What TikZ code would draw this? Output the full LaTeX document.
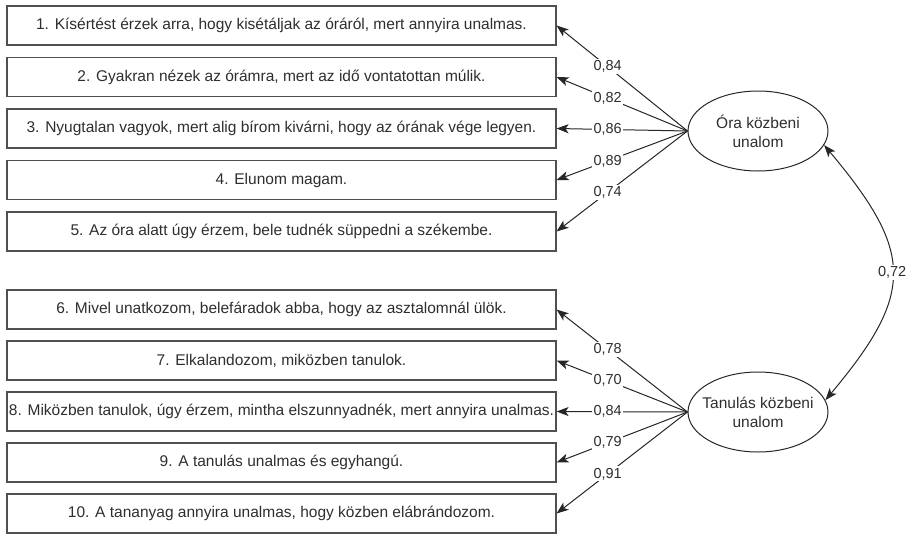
\documentclass[tikz,border=0pt]{standalone}
\usepackage{fontspec}
\setmainfont{Liberation Sans}
\usetikzlibrary{arrows.meta,shapes.geometric}
\definecolor{boxgray}{HTML}{505050}
\definecolor{textgray}{HTML}{2E2E2E}
\definecolor{linegray}{HTML}{262626}
\begin{document}
\begin{tikzpicture}[x=1pt,y=-1pt,
 item/.style={draw=boxgray, line width=1.1pt, minimum width=549pt, minimum height=39pt, inner sep=0pt, text=textgray, font=\fontsize{15.5}{18}\selectfont},
 latent/.style={draw=linegray, line width=1pt, ellipse, minimum width=140pt, minimum height=80pt, inner sep=0pt},
 ltext/.style={align=center, text=textgray, font=\fontsize{15.5}{19}\selectfont},
 tip/.style={Stealth[length=12pt,width=9pt,inset=3pt]},
 load/.style={draw=linegray, line width=1pt, -{Stealth[length=12pt,width=9pt,inset=3pt]}},
 lab/.style={fill=white, inner sep=1.5pt, text=textgray, font=\fontsize{14.5}{16}\selectfont}
]
\useasboundingbox (0,0) rectangle (910,533);

\node[item] (b1) at (281.5,25.5) {1. Kísértést érzek arra, hogy kisétáljak az óráról, mert annyira unalmas.};
\node[item] (b2) at (281.5,77) {2. Gyakran nézek az órámra, mert az idő vontatottan múlik.};
\node[item] (b3) at (281.5,128.5) {3. Nyugtalan vagyok, mert alig bírom kivárni, hogy az órának vége legyen.};
\node[item] (b4) at (281.5,180) {4. Elunom magam.};
\node[item] (b5) at (281.5,231.5) {5. Az óra alatt úgy érzem, bele tudnék süppedni a székembe.};

\node[item] (b6) at (281.5,309.5) {6. Mivel unatkozom, belefáradok abba, hogy az asztalomnál ülök.};
\node[item] (b7) at (281.5,360.5) {7. Elkalandozom, miközben tanulok.};
\node[item] (b8) at (281.5,411.5) {8. Miközben tanulok, úgy érzem, mintha elszunnyadnék, mert annyira unalmas.};
\node[item] (b9) at (281.5,462.5) {9. A tanulás unalmas és egyhangú.};
\node[item] (b10) at (281.5,513.5) {10. A tananyag annyira unalmas, hogy közben elábrándozom.};

\node[latent] (o1) at (758,131) {};
\node[ltext] (o1t) at (o1) {Óra közbeni\\unalom};
\node[latent] (o2) at (758,412) {};
\node[ltext] (o2t) at (o2) {Tanulás közbeni\\unalom};

\draw[load] (o1.west) -- node[lab,pos=0.61]{0,84} (b1.east);
\draw[load] (o1.west) -- node[lab,pos=0.61]{0,82} (b2.east);
\draw[load] (o1.west) -- node[lab,pos=0.61]{0,86} (b3.east);
\draw[load] (o1.west) -- node[lab,pos=0.61]{0,89} (b4.east);
\draw[load] (o1.west) -- node[lab,pos=0.61]{0,74} (b5.east);

\draw[load] (o2.west) -- node[lab,pos=0.61]{0,78} (b6.east);
\draw[load] (o2.west) -- node[lab,pos=0.61]{0,70} (b7.east);
\draw[load] (o2.west) -- node[lab,pos=0.61]{0,84} (b8.east);
\draw[load] (o2.west) -- node[lab,pos=0.61]{0,79} (b9.east);
\draw[load] (o2.west) -- node[lab,pos=0.61]{0,91} (b10.east);

\draw[draw=linegray, line width=1pt, {Stealth[length=12pt,width=9pt,inset=3pt]}-{Stealth[length=12pt,width=9pt,inset=3pt]}]
  (o1.-12) to[out=-50,in=50,looseness=1.4] node[lab,pos=0.5]{0,72} (o2.10);
\end{tikzpicture}
\end{document}
